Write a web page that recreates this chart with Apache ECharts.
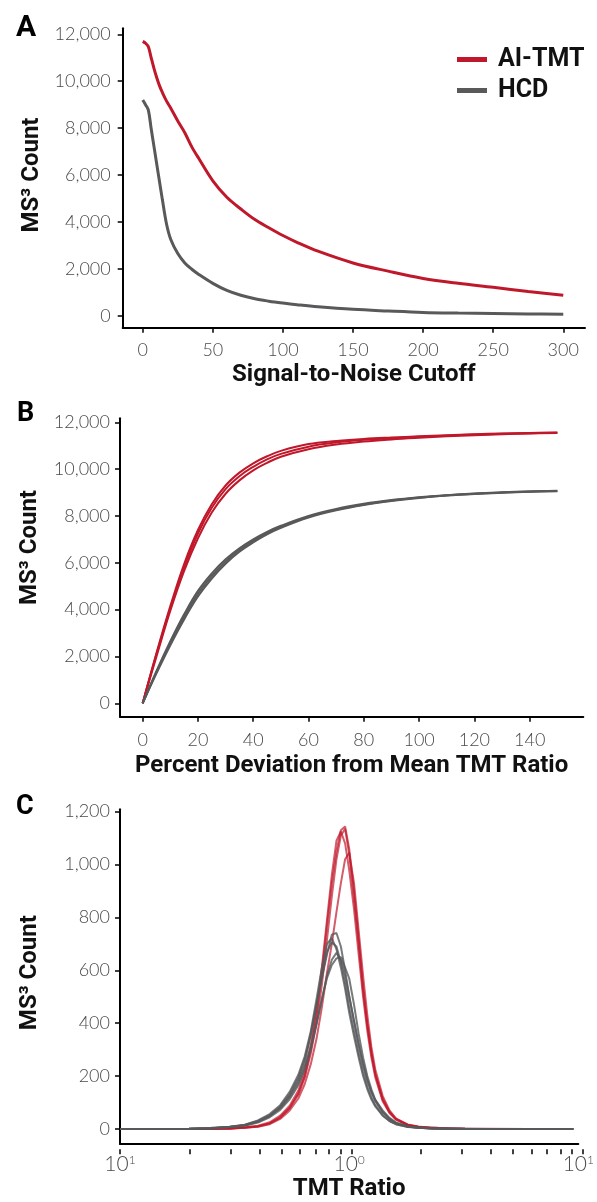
<!DOCTYPE html>
<html><head><meta charset="utf-8">
<script src="https://cdn.jsdelivr.net/npm/echarts@6/dist/echarts.min.js"></script>
<style>html,body{margin:0;padding:0;background:#fff}#c{width:597px;height:1202px}</style>
</head><body><div id="c"></div>
<script>
// ---------- Panel A: MS3 count vs signal-to-noise cutoff ----------
const cutoffX = [0,2,4,6,8,10,12,14,17,20,25,30,35,40,50,60,70,80,90,100,110,125,150,175,200,225,250,275,300];
const aiTmtA  = [11700,11620,11470,11000,10550,10150,9800,9520,9150,8850,8300,7800,7200,6700,5750,5050,4550,4100,3750,3420,3130,2750,2250,1900,1590,1380,1210,1030,870];
const hcdA    = [9200,9000,8770,7980,7220,6460,5700,4950,3900,3250,2650,2250,1980,1760,1380,1080,870,720,620,540,470,380,270,200,140,110,90,75,65];
const cutoffTicks = [0,50,100,150,200,250,300];

// ---------- Panel B: MS3 count vs percent deviation ----------
const deviationX = [0,5,10,15,20,25,30,35,40,45,50,60,70,80,90,100,110,120,130,140,150];
const aiTmtB1 = [0,2150,4150,5950,7400,8500,9300,9850,10250,10550,10780,11070,11200,11290,11350,11400,11450,11490,11520,11545,11565];
const aiTmtB2 = [0,2100,4050,5800,7250,8350,9150,9700,10100,10420,10650,10960,11140,11250,11320,11380,11430,11475,11510,11535,11555];
const aiTmtB3 = [0,2000,3950,5650,7050,8150,8950,9520,9950,10270,10530,10850,11050,11180,11270,11340,11400,11450,11490,11520,11545];
const hcdB1   = [0,1380,2650,3800,4800,5550,6150,6620,7000,7320,7580,8000,8300,8520,8680,8800,8890,8960,9010,9050,9080];
const hcdB2   = [0,1330,2560,3680,4680,5440,6060,6550,6940,7270,7540,7970,8270,8490,8660,8790,8880,8950,9000,9040,9070];
const hcdB3   = [0,1280,2480,3580,4560,5330,5960,6470,6870,7210,7490,7930,8240,8470,8640,8770,8870,8940,8990,9030,9060];
const deviationTicks = [0,20,40,60,80,100,120,140];

// ---------- Panel C: TMT ratio histograms ----------
const ratioX  = [0.1,0.2,0.25,0.3,0.35,0.4,0.45,0.5,0.55,0.6,0.64,0.68,0.72,0.76,0.8,0.84,0.88,0.92,0.96,1.0,1.05,1.1,1.15,1.2,1.25,1.3,1.4,1.5,1.6,1.8,2.0,2.3,2.7,3.2,4.0,6.0,9.5];
const aiTmtC1 = [0,0,1,2,5,10,22,45,80,135,200,300,430,590,770,930,1050,1130,1144,1060,900,720,540,400,290,210,115,65,38,15,8,4,2,1,0,0,0];
const aiTmtC2 = [0,0,1,2,6,12,25,50,88,145,215,320,450,610,790,960,1090,1125,1080,980,830,660,500,370,270,195,105,60,35,14,7,3,2,1,0,0,0];
const aiTmtC3 = [0,0,0,2,4,9,20,42,78,130,195,285,400,545,715,880,1020,1110,1135,1040,870,700,520,390,285,205,110,62,36,15,8,5,2,1,1,0,0];
const aiTmtC4 = [0,0,1,1,4,8,18,38,70,115,170,245,340,460,590,700,820,930,1020,1045,930,750,580,430,310,225,125,70,40,17,9,4,3,1,0,0,0];
const hcdC1   = [0,1,3,7,14,28,50,80,125,185,250,360,470,570,660,735,741,690,600,505,405,315,240,180,140,110,70,42,25,9,4,2,1,0,0,0,0];
const hcdC2   = [0,1,4,8,16,32,56,90,140,205,275,370,490,610,700,722,680,610,530,440,350,270,200,150,112,85,50,30,18,7,4,2,1,0,0,0,0];
const hcdC3   = [0,0,2,6,12,24,44,72,112,165,225,300,395,490,580,640,666,640,580,500,410,325,250,190,140,105,62,37,22,9,5,2,1,1,0,0,0];
const hcdC4   = [0,1,3,7,14,27,48,78,120,175,235,310,400,490,570,620,645,650,610,570,470,360,270,200,150,110,65,38,22,9,5,3,1,0,0,0,0];
const hcdC5   = [0,1,3,7,15,30,52,85,132,195,265,355,465,580,670,705,690,630,550,460,370,285,215,160,120,90,52,30,18,8,4,2,1,0,0,0,0];
const ratioTicks = [0.1,1,10];
const ratioTickBase = ['10','10','10'];
const ratioTickExp  = ['1','0','1'];
const ratioMinorTicks = [0.2,0.3,0.4,0.5,0.6,0.7,0.8,0.9,2,3,4,5,6,7,8,9];
const countTicksAB = [0,2000,4000,6000,8000,10000,12000];
const countTicksC  = [0,200,400,600,800,1000,1200];

// ---------- styling ----------
const RED = '#c0182b', GRAY = '#58595b';
const TICK_FONT = 'Lato', BOLD_FONT = 'Roboto';
const tickLabel = (extra) => Object.assign({
  fontFamily: TICK_FONT, fontWeight: 300, fontSize: 18, color: '#4a4a4a',
  formatter: v => Number(v).toLocaleString('en-US')
}, extra || {});
const axisLine = { show: true, onZero: false, lineStyle: { color: '#000', width: 2 } };
const tick = (vals) => ({ show: true, inside: false, length: 5, customValues: vals, lineStyle: { color: '#000', width: 1.5 } });
const nameStyle = { fontFamily: BOLD_FONT, fontWeight: 'bold', fontSize: 24, color: '#111' };
const zip = (xs, ys) => xs.map((x, i) => [x, ys[i]]);

function valueX(gi, min, max, ticks, name, gap, margin) {
  return { type: 'value', gridIndex: gi, min, max, axisLine, splitLine: { show: false },
    axisTick: tick(ticks), axisLabel: tickLabel({ customValues: ticks, margin }),
    name, nameLocation: 'middle', nameGap: gap, nameTextStyle: nameStyle };
}
function valueY(gi, min, max, ticks, pad, margin) {
  return { type: 'value', gridIndex: gi, min, max, axisLine, splitLine: { show: false },
    axisTick: tick(ticks), axisLabel: tickLabel({ customValues: ticks, margin }),
    name: 'MS³ Count', nameLocation: 'middle', nameGap: 78,
    nameTextStyle: Object.assign({ padding: pad }, nameStyle) };
}
function line(name, xi, xs, ys, color, width, opacity, smooth) {
  return { name, type: 'line', xAxisIndex: xi, yAxisIndex: xi, data: zip(xs, ys),
    showSymbol: false, smooth: smooth, z: color === GRAY ? 3 : 2,
    lineStyle: { color, width, opacity: opacity == null ? 1 : opacity }, itemStyle: { color } };
}

const option = {
  animation: false,
  backgroundColor: '#fff',
  title: [
    { text: 'A', left: 11, top: 8, textStyle: { fontFamily: BOLD_FONT, fontWeight: 'bold', fontSize: 30, color: '#000' } },
    { text: 'B', left: 12, top: 396, textStyle: { fontFamily: BOLD_FONT, fontWeight: 'bold', fontSize: 27, color: '#000' } },
    { text: 'C', left: 11, top: 789, textStyle: { fontFamily: BOLD_FONT, fontWeight: 'bold', fontSize: 27, color: '#000' } }
  ],
  legend: {
    data: ['AI-TMT', 'HCD'], orient: 'vertical', left: 452, top: 42, itemGap: 6,
    itemWidth: 30, itemHeight: 5, icon: 'rect', selectedMode: false,
    textStyle: { fontFamily: BOLD_FONT, fontWeight: 'bold', fontSize: 25, color: '#111', padding: [0, 0, 0, 6] }
  },
  grid: [
    { left: 122.7, top: 28.3, width: 462.3, height: 299.4 },
    { left: 120, top: 418.3, width: 463.3, height: 298.4 },
    { left: 120, top: 809.3, width: 462.7, height: 340 },
    { left: 120, top: 809.3, width: 462.7, height: 340 }
  ],
  xAxis: [
    valueX(0, -14.3, 315.5, cutoffTicks, 'Signal-to-Noise Cutoff', 35, 13),
    valueX(1, -8.2, 159.4, deviationTicks, 'Percent Deviation from Mean TMT Ratio', 37, 14),
    { type: 'log', logBase: 10, gridIndex: 2, min: 0.1, max: 10, axisLine, splitLine: { show: false },
      axisTick: { show: false },
      axisLabel: { margin: 10, formatter: v => { const i = ratioTicks.findIndex(t => Math.abs(t - v) < 1e-9); return i < 0 ? '' : '{b|' + ratioTickBase[i] + '}{s|' + ratioTickExp[i] + '}'; },
        rich: { b: { fontFamily: TICK_FONT, fontWeight: 300, fontSize: 21, color: '#4a4a4a' },
                s: { fontFamily: TICK_FONT, fontWeight: 300, fontSize: 12, color: '#4a4a4a', verticalAlign: 'top' } } },
      name: 'TMT Ratio', nameLocation: 'middle', nameGap: 33, nameTextStyle: nameStyle },
    // tick marks of the log axis (major + minor), drawn on an overlay grid in log10 units
    { type: 'value', gridIndex: 3, min: -1, max: 1, position: 'bottom',
      axisLine: { show: false, onZero: false }, splitLine: { show: false },
      axisLabel: { show: false },
      axisTick: tick(ratioTicks.concat(ratioMinorTicks).map(v => Math.log10(v))) }
  ],
  yAxis: [
    valueY(0, -512, 12256, countTicksAB, [0, 0, 0, 6], 12),
    valueY(1, -572, 12171, countTicksAB, [0, 0, 0, 40], 10),
    valueY(2, -57, 1209, countTicksC, [0, 0, 0, 8], 10),
    { type: 'value', gridIndex: 3, min: 0, max: 1, show: false }
  ],
  series: [
    line('AI-TMT', 0, cutoffX, aiTmtA, RED, 3, 1, 0.35),
    line('HCD', 0, cutoffX, hcdA, GRAY, 3, 1, 0.35),
    line('AI-TMT', 1, deviationX, aiTmtB1, RED, 2, 1, 0.4),
    line('AI-TMT', 1, deviationX, aiTmtB2, RED, 2, 1, 0.4),
    line('AI-TMT', 1, deviationX, aiTmtB3, RED, 2, 1, 0.4),
    line('HCD', 1, deviationX, hcdB1, GRAY, 2, 1, 0.4),
    line('HCD', 1, deviationX, hcdB2, GRAY, 2, 1, 0.4),
    line('HCD', 1, deviationX, hcdB3, GRAY, 2, 1, 0.4),
    line('AI-TMT', 2, ratioX, aiTmtC1, RED, 2, 0.7, false),
    line('AI-TMT', 2, ratioX, aiTmtC2, RED, 2, 0.7, false),
    line('AI-TMT', 2, ratioX, aiTmtC3, RED, 2, 0.7, false),
    line('AI-TMT', 2, ratioX, aiTmtC4, RED, 2, 0.7, false),
    line('HCD', 2, ratioX, hcdC1, GRAY, 2, 0.8, false),
    line('HCD', 2, ratioX, hcdC2, GRAY, 2, 0.8, false),
    line('HCD', 2, ratioX, hcdC3, GRAY, 2, 0.8, false),
    line('HCD', 2, ratioX, hcdC4, GRAY, 2, 0.8, false),
    line('HCD', 2, ratioX, hcdC5, GRAY, 2, 0.8, false)
  ]
};
const chart = echarts.init(document.getElementById('c'), null, { renderer: 'canvas' });
chart.setOption(option);
</script></body></html>
